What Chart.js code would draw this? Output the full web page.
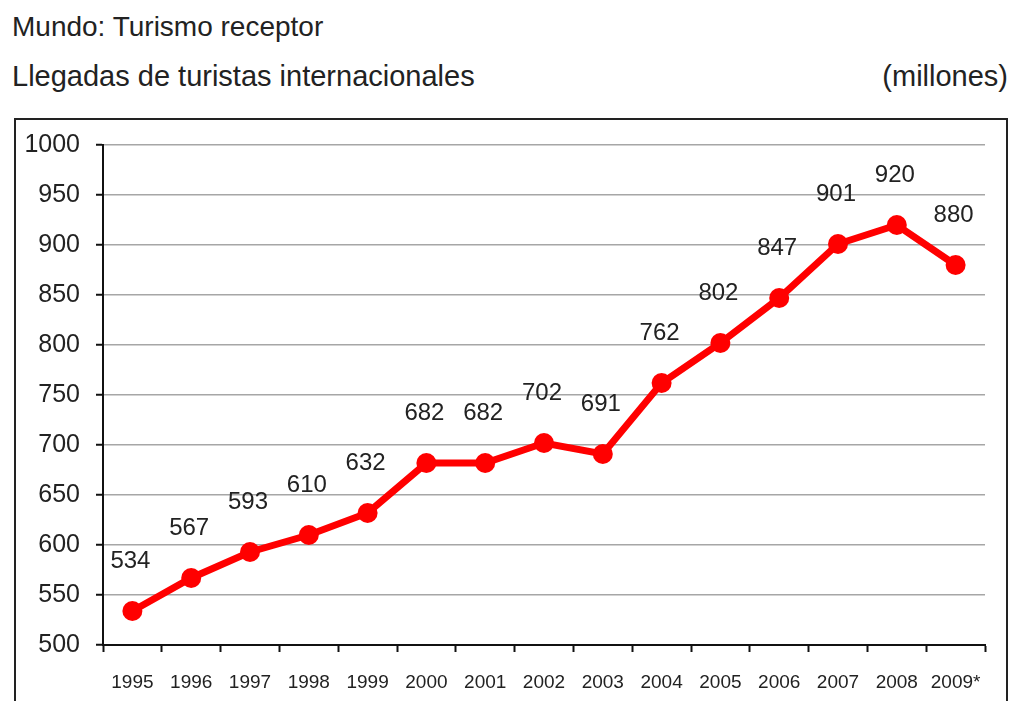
<!DOCTYPE html>
<html>
<head>
<meta charset="utf-8">
<script src="https://cdn.jsdelivr.net/npm/chart.js@4"></script>
<style>
  html, body { margin: 0; padding: 0; background: #fff; overflow: hidden; }
  .t { position: absolute; font-family: "Liberation Sans", Arial, sans-serif; font-size: 29px; color: #222; white-space: nowrap; line-height: 1; }
  #box { position: absolute; left: 14px; top: 118px; width: 990px; height: 640px; border: 2px solid #222; }
  #c { position: absolute; left: 0; top: 0; }
</style>
</head>
<body>
<div class="t" style="left:12px; top:13px; font-size:28px;">Mundo: Turismo receptor</div>
<div class="t" style="left:12px; top:62px;">Llegadas de turistas internacionales</div>
<div class="t" style="right:6px; top:62px;">(millones)</div>
<div id="box"></div>
<canvas id="c" width="1014" height="701"></canvas>
<script>
const years = ["1995", "1996", "1997", "1998", "1999", "2000", "2001", "2002", "2003", "2004", "2005", "2006", "2007", "2008", "2009*"];
const arrivals = [534, 567, 593, 610, 632, 682, 682, 702, 691, 762, 802, 847, 901, 920, 880];
const yTicks = [500, 550, 600, 650, 700, 750, 800, 850, 900, 950, 1000];

// value labels above each point
const valueLabels = {
  id: 'valueLabels',
  afterDatasetsDraw(chart) {
    const ctx = chart.ctx;
    const meta = chart.getDatasetMeta(0);
    ctx.save();
    ctx.font = '24px "Liberation Sans", Arial, sans-serif';
    ctx.fillStyle = '#222';
    ctx.textAlign = 'center';
    ctx.textBaseline = 'middle';
    meta.data.forEach((pt, i) => {
      ctx.fillText(String(arrivals[i]), pt.x - 2, pt.y - 50);
    });
    ctx.restore();
  }
};

new Chart(document.getElementById('c').getContext('2d'), {
  type: 'line',
  data: {
    labels: years,
    datasets: [{
      data: arrivals,
      borderColor: '#ff0000',
      backgroundColor: '#ff0000',
      borderWidth: 7,
      pointRadius: 10,
      pointHoverRadius: 10,
      pointBorderWidth: 0,
      tension: 0,
      fill: false
    }]
  },
  options: {
    responsive: false,
    animation: false,
    layout: { padding: { left: 0, right: 29, top: 145, bottom: 0 } },
    plugins: {
      legend: { display: false },
      tooltip: { enabled: false }
    },
    scales: {
      x: {
        type: 'category',
        offset: true,
        afterFit(scale) { scale.height = 56; },
        grid: { display: true, drawOnChartArea: false, drawTicks: true, tickLength: 7, tickColor: '#111', tickWidth: 2, offset: true },
        border: { color: '#111', width: 2 },
        ticks: {
          autoSkip: false,
          maxRotation: 0,
          minRotation: 0,
          padding: 19,
          color: '#222',
          font: { family: '"Liberation Sans", Arial, sans-serif', size: 19 }
        }
      },
      y: {
        min: 500,
        max: 1000,
        afterFit(scale) { scale.width = 103; },
        afterBuildTicks(scale) { scale.ticks = yTicks.map(v => ({ value: v })); },
        grid: { color: '#a6a6a6', lineWidth: 1.5, drawTicks: true, tickLength: 7, tickColor: '#111', tickWidth: 2 },
        border: { color: '#111', width: 2 },
        ticks: {
          padding: 16,
          color: '#222',
          callback: (v) => String(v),
          font: { family: '"Liberation Sans", Arial, sans-serif', size: 25 }
        }
      }
    }
  },
  plugins: [valueLabels]
});
</script>
</body>
</html>
